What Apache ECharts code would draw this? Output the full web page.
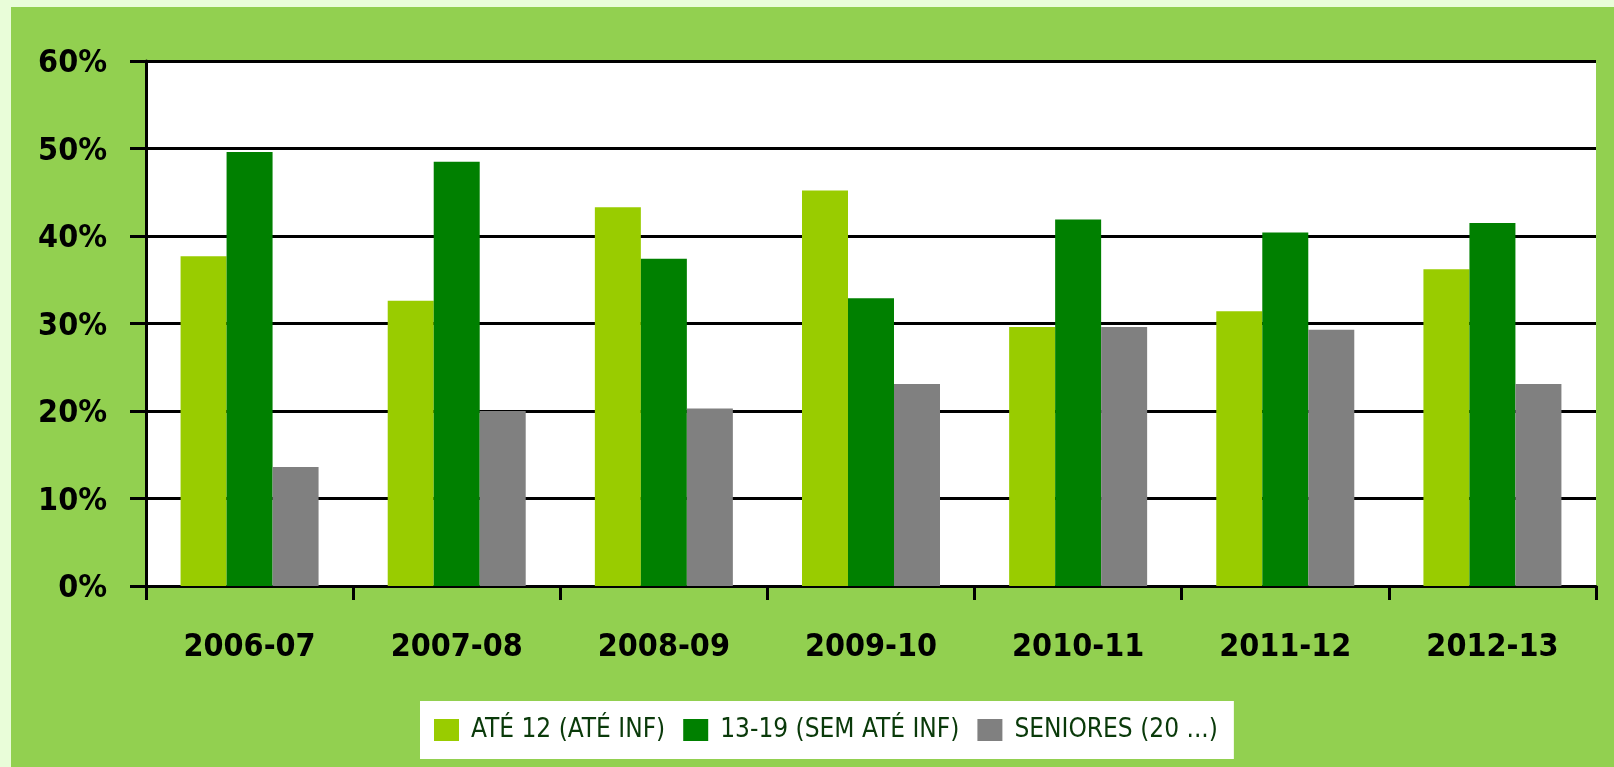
<!DOCTYPE html>
<html>
<head>
<meta charset="utf-8">
<script src="https://cdn.jsdelivr.net/npm/echarts@6/dist/echarts.min.js"></script>
<style>
    html, body { margin: 0; padding: 0; background: #e9fdd9; }
    #chart { position: absolute; left: 11px; top: 7px; width: 1603px; height: 760px; background: #92d050; }
</style>
</head>
<body>
<div id="chart"></div>
<script>
var seasons = ['2006-07', '2007-08', '2008-09', '2009-10', '2010-11', '2011-12', '2012-13'];
var seriesNames = ['ATÉ 12 (ATÉ INF)', '13-19 (SEM ATÉ INF)', 'SENIORES (20 ...)'];
var ate12 = [37.7, 32.6, 43.3, 45.2, 29.6, 31.4, 36.2];
var juniores = [49.6, 48.5, 37.4, 32.9, 41.9, 40.4, 41.5];
var seniores = [13.6, 20.0, 20.3, 23.1, 29.6, 29.3, 23.1];
var yTicks = [0, 10, 20, 30, 40, 50, 60];

var font = "'DejaVu Sans Condensed', 'Liberation Sans Narrow', 'DejaVu Sans', sans-serif";

var chart_element = document.getElementById('chart');
if (chart_element) {
    var chart = echarts.init(chart_element);
    chart.setOption({
        animation: false,
        color: ['#99cc00', '#008000', '#808080'],

        grid: {
            left: 135,
            top: 54,
            right: 18,
            bottom: 181,
            show: true,
            backgroundColor: '#ffffff',
            borderWidth: 0,
            outerBoundsMode: 'none'
        },

        legend: {
            data: seriesNames,
            left: 409,
            top: 694,
            padding: [16, 16, 16, 14],
            backgroundColor: '#ffffff',
            itemWidth: 25,
            itemHeight: 22,
            itemGap: 18,
            icon: 'rect',
            textStyle: {
                fontFamily: font,
                fontSize: 26,
                color: '#0a3a0a',
                padding: [0, 0, 0, 7]
            }
        },

        xAxis: {
            type: 'category',
            data: seasons,
            boundaryGap: true,
            axisLine: { lineStyle: { color: '#000', width: 3 } },
            axisTick: { show: true, length: 14, lineStyle: { color: '#000', width: 3 } },
            axisLabel: {
                margin: 46,
                color: '#000',
                fontFamily: font,
                fontSize: 32,
                fontWeight: 'bold'
            }
        },

        yAxis: {
            type: 'value',
            min: yTicks[0],
            max: yTicks[yTicks.length - 1],
            interval: 10,
            axisLine: { show: true, lineStyle: { color: '#000', width: 3 } },
            axisTick: { show: true, length: 16, lineStyle: { color: '#000', width: 3 } },
            splitLine: { show: true, lineStyle: { color: '#000', width: 3 } },
            axisLabel: {
                margin: 39,
                formatter: '{p|{value}%}',
                rich: {
                    p: {
                        color: '#000',
                        fontFamily: font,
                        fontSize: 32,
                        fontWeight: 'bold',
                        padding: [6, 0, 0, 0]
                    }
                }
            }
        },

        series: [{
            name: seriesNames[0],
            type: 'bar',
            barWidth: 46,
            barGap: '0%',
            data: ate12
        }, {
            name: seriesNames[1],
            type: 'bar',
            barWidth: 46,
            barGap: '0%',
            data: juniores
        }, {
            name: seriesNames[2],
            type: 'bar',
            barWidth: 46,
            barGap: '0%',
            data: seniores
        }]
    });
}
</script>
</body>
</html>
